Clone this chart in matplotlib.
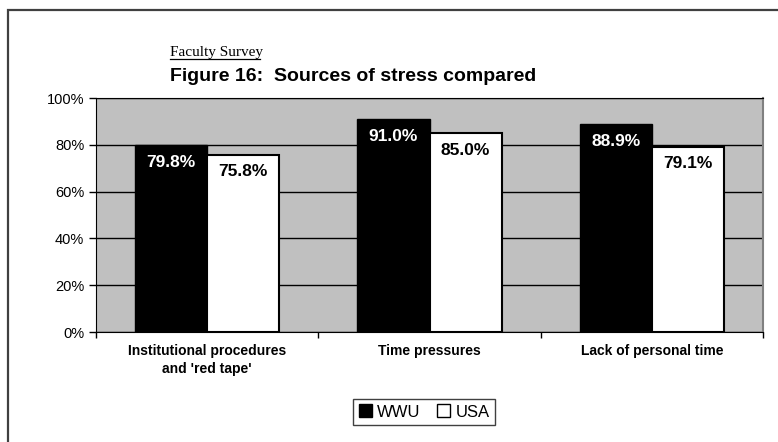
import matplotlib

matplotlib.use("Agg")
import matplotlib.pyplot as plt
from matplotlib.patches import Patch, Rectangle
from matplotlib.lines import Line2D
from matplotlib.ticker import FuncFormatter

categories = ["Institutional procedures\nand 'red tape'", "Time pressures", "Lack of personal time"]
wwu = [79.8, 91.0, 88.9]
usa = [75.8, 85.0, 79.1]
y_ticks = [0, 20, 40, 60, 80, 100]

plt.rcParams["font.family"] = ["Liberation Sans", "DejaVu Sans"]

fig = plt.figure(figsize=(7.78, 4.42), dpi=100)

# outer frame (only left and top visible in the crop)
fig.add_artist(Rectangle((8 / 778, -0.1), 1.2, 1 - 10 / 442 + 0.1,
                         transform=fig.transFigure, fill=False,
                         edgecolor="#404040", lw=1.6))

ax = fig.add_axes([96 / 778, 1 - 332 / 442, 667 / 778, 234 / 442])
ax.set_facecolor("#c0c0c0")

xs = list(range(len(categories)))
w = 0.325
b1 = ax.bar([x - w / 2 for x in xs], wwu, width=w, color="black",
            edgecolor="black", lw=1, zorder=3)
b2 = ax.bar([x + w / 2 for x in xs], usa, width=w, color="white",
            edgecolor="black", lw=1.5, zorder=3)

for bars, vals, col in ((b1, wwu, "white"), (b2, usa, "black")):
    for b, v in zip(bars, vals):
        ax.text(b.get_x() + b.get_width() / 2, v - 7.3, f"{v:.1f}%",
                ha="center", va="center", color=col, fontsize=12.5,
                fontweight="bold", zorder=4)

ax.set_xlim(-0.5, 2.5)
ax.set_ylim(0, 100)
ax.set_yticks(y_ticks)
ax.yaxis.set_major_formatter(FuncFormatter(lambda v, p: f"{v:.0f}%"))
ax.tick_params(axis="y", labelsize=10.5, direction="out", length=5, width=1)
ax.set_xticks([-0.5, 0.5, 1.5, 2.5])
ax.set_xticklabels([])
ax.tick_params(axis="x", direction="out", length=4, width=1)
for x, lab in zip(xs, categories):
    ax.text(x, -5, lab, ha="center", va="top", fontsize=10,
            fontweight="bold", linespacing=1.4,
            transform=ax.transData)

ax.grid(True, axis="y", color="black", lw=1, zorder=1)
for s in ("left", "bottom", "top"):
    ax.spines[s].set_color("black")
ax.spines["right"].set_color("#808080")
ax.spines["right"].set_linewidth(1.5)

fig.text(170 / 778, 1 - 56 / 442, "Faculty Survey", fontsize=11,
         family=["Liberation Serif", "DejaVu Serif"], ha="left", va="baseline")
fig.add_artist(Line2D([170 / 778, 260 / 778], [1 - 58.5 / 442] * 2,
                      color="black", lw=0.9, transform=fig.transFigure))
fig.text(170 / 778, 1 - 81 / 442, "Figure 16:  Sources of stress compared",
         fontsize=14, fontweight="bold", ha="left", va="baseline")

handles = [Patch(facecolor="black", edgecolor="black", label="WWU"),
           Patch(facecolor="white", edgecolor="black", label="USA")]
fig.legend(handles=handles, loc="center", ncol=2,
           bbox_to_anchor=(424 / 778, 1 - 412 / 442), fontsize=12,
           frameon=True, fancybox=False, edgecolor="#404040",
           handlelength=0.8, handleheight=0.8, handletextpad=0.3,
           columnspacing=1.0, borderpad=0.35, borderaxespad=0,
           framealpha=1)

fig.savefig("out.png", dpi=100)
